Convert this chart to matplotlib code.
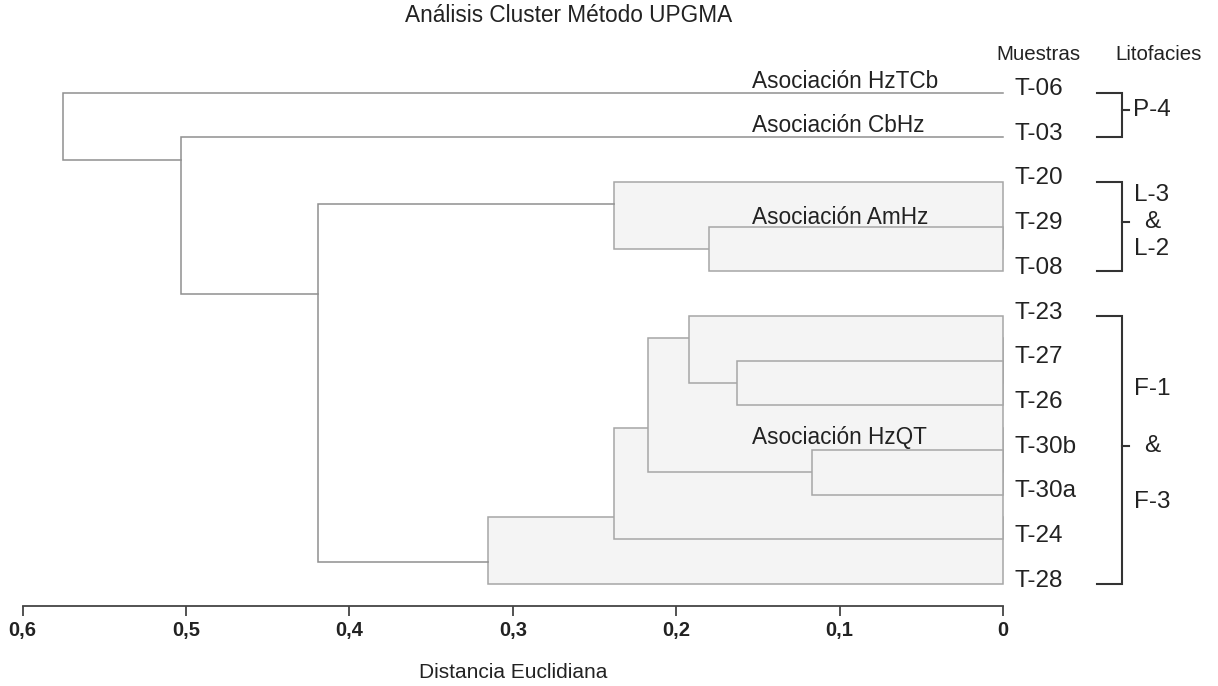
import matplotlib
matplotlib.use("Agg")
import matplotlib.pyplot as plt
from matplotlib.patches import Rectangle

plt.rcParams['font.family'] = ['Liberation Sans', 'DejaVu Sans']

# muestras (hojas) en el orden del dendrograma, de arriba a abajo
leaves = ['T-06', 'T-03', 'T-20', 'T-29', 'T-08', 'T-23', 'T-27',
          'T-26', 'T-30b', 'T-30a', 'T-24', 'T-28']

# uniones UPGMA: nodo = (hijo_a, hijo_b) a una distancia dada
node_names = ['N1', 'N2', 'N3', 'N4', 'N5', 'N6', 'N7', 'N8', 'N9', 'N10', 'N11']
merge_a = ['T-30b', 'T-27', 'T-23', 'N3', 'N4', 'N5', 'T-29', 'T-20', 'N8', 'T-03', 'T-06']
merge_b = ['T-30a', 'T-26', 'N2', 'N1', 'T-24', 'T-28', 'T-08', 'N7', 'N6', 'N9', 'N10']
merge_dist = [0.117, 0.163, 0.192, 0.217, 0.238, 0.315, 0.180, 0.238, 0.419, 0.503, 0.575]
# posicion vertical (fila) de cada nodo, tal como aparece en la figura
merge_row = [8.5, 6.5, 5.5, 7.5, 9.5, 10.5, 3.5, 2.5, 4.5, 1.5, 0.75]
merge_shaded = [True, True, True, True, True, True, True, True, False, False, False]

assoc_labels = ['Asociación HzTCb', 'Asociación CbHz', 'Asociación AmHz', 'Asociación HzQT']
assoc_rows = [-0.25, 0.73, 2.8, 7.71]

litho_first = ['T-06', 'T-20', 'T-23']
litho_last = ['T-03', 'T-08', 'T-28']
litho_text = [['P-4'], ['L-3', '&', 'L-2'], ['F-1', '&', 'F-3']]

xticks = [0.6, 0.5, 0.4, 0.3, 0.2, 0.1, 0.0]
xtick_labels = ['0,6', '0,5', '0,4', '0,3', '0,2', '0,1', '0']

# posiciones y alturas de hojas y nodos
row = {name: i for i, name in enumerate(leaves)}
height = {name: 0.0 for name in leaves}
for n, r, d in zip(node_names, merge_row, merge_dist):
    row[n] = r
    height[n] = d

W, H = 1218, 686
fig = plt.figure(figsize=(W / 100, H / 100), dpi=100)
ax = fig.add_axes([22.5 / W, 1 - 606 / H, (1003 - 22.5) / W, (606 - 70.2) / H])
ax.set_xlim(0.6, 0)
ax.set_ylim(11.49, -0.5)

line_col = '#8f8f8f'
edge_col = '#a6a6a6'
fill_col = '#f4f4f4'

# cajas sombreadas (de mayor a menor para que las pequeñas queden encima)
shaded = [i for i in range(len(node_names)) if merge_shaded[i]]
shaded.sort(key=lambda i: -merge_dist[i])
for i in shaded:
    ya, yb = row[merge_a[i]], row[merge_b[i]]
    ax.add_patch(Rectangle((0, ya), merge_dist[i], yb - ya, facecolor=fill_col,
                           edgecolor=edge_col, lw=1.1, clip_on=False, zorder=2))

# uniones sin sombrear
for i in range(len(node_names)):
    if merge_shaded[i]:
        continue
    a, b, d = merge_a[i], merge_b[i], merge_dist[i]
    ax.plot([height[a], d, d, height[b]], [row[a], row[a], row[b], row[b]],
            color=line_col, lw=1.1, solid_joinstyle='miter', zorder=3, clip_on=False)

# etiquetas de las muestras
for name in leaves:
    ax.annotate(name, (0, row[name]), xytext=(8, 2.5), textcoords='offset points',
                ha='left', va='center', fontsize=17.5, color='#222222',
                annotation_clip=False)

# etiquetas de asociaciones
for lab, r in zip(assoc_labels, assoc_rows):
    ax.text(0.1535, r, lab, ha='left', va='center', fontsize=16.3, color='#222222', zorder=5)

# corchetes de litofacies
bx0, bx1, btick = -0.0575, -0.0728, -0.0768
for first, last, texts in zip(litho_first, litho_last, litho_text):
    y0, y1 = row[first], row[last]
    ax.plot([bx0, bx1, bx1, bx0], [y0, y0, y1, y1], color='#333333', lw=1.5,
            solid_joinstyle='miter', clip_on=False)
    mid = (y0 + y1) / 2 - 0.1
    ax.plot([bx1, btick], [mid, mid], color='#333333', lw=1.5, clip_on=False)
    if len(texts) == 1:
        ax.text(-0.0795, mid, texts[0], ha='left', va='center', fontsize=17.5,
                color='#222222', clip_on=False)
    else:
        gap = 0.6 if (y1 - y0) < 3 else 1.27
        for k, t in enumerate(texts):
            ax.text(-0.0911, mid + (k - 1) * gap, t, ha='center', va='center',
                    fontsize=17.5, color='#222222', clip_on=False)

# eje x
for s in ['top', 'right', 'left']:
    ax.spines[s].set_visible(False)
ax.spines['bottom'].set_color('#444444')
ax.spines['bottom'].set_linewidth(1.3)
ax.set_yticks([])
ax.set_xticks(xticks)
ax.set_xticklabels(xtick_labels, fontsize=14.5, fontweight='bold', color='#222222')
ax.tick_params(axis='x', direction='out', length=7, width=1.3, color='#444444', pad=4)

fig.text(569 / W, 1 - 15 / H, 'Análisis Cluster Método UPGMA', ha='center', va='center',
         fontsize=16.3, color='#222222')
fig.text(1038 / W, 1 - 54 / H, 'Muestras', ha='center', va='center', fontsize=14.8,
         color='#222222')
fig.text(1158.5 / W, 1 - 54 / H, 'Litofacies', ha='center', va='center', fontsize=14.8,
         color='#222222')
fig.text(512.75 / W, 1 - 672 / H, 'Distancia Euclidiana', ha='center', va='center',
         fontsize=15, color='#222222')

fig.savefig('out.png', dpi=100)
